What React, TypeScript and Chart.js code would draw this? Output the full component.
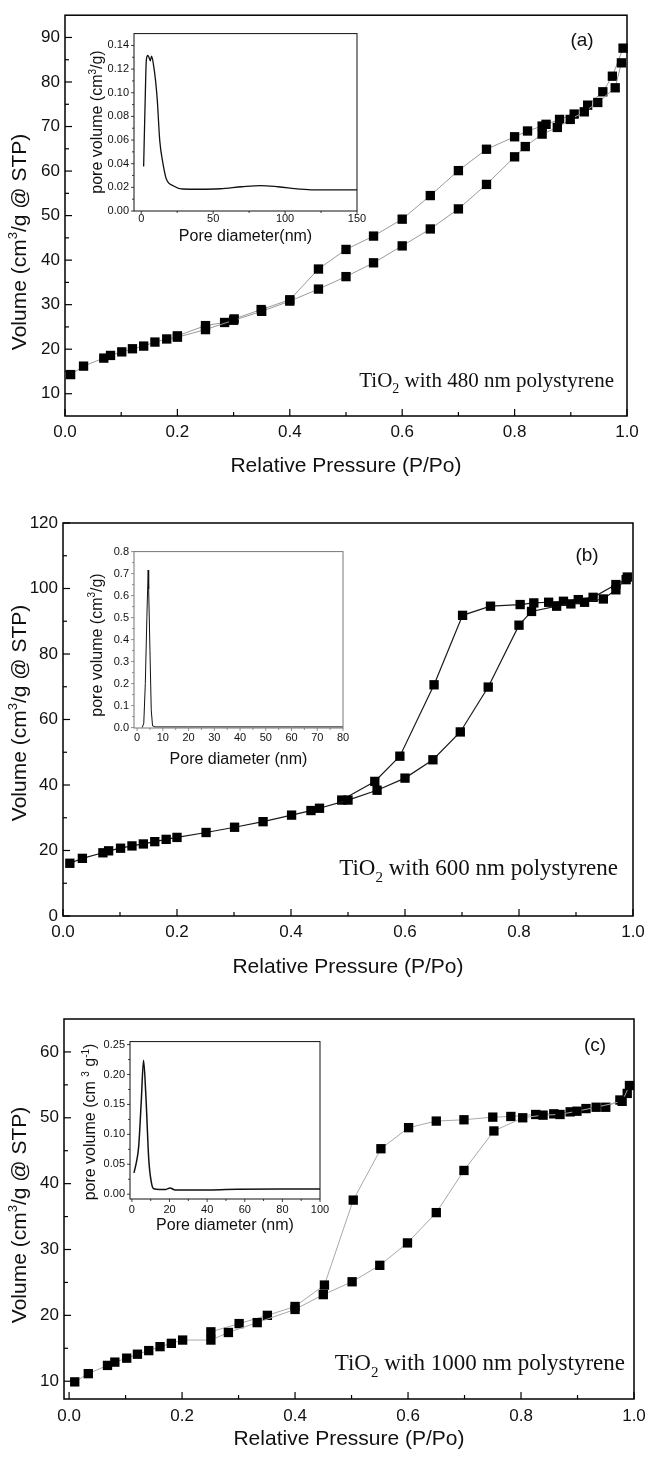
import React, { useEffect, useRef } from 'react';
import { Chart, registerables } from 'chart.js';

Chart.register(...registerables);

const SANS = "'Liberation Sans', Arial, Helvetica, sans-serif";
const SERIF = "'Liberation Serif', 'Times New Roman', Times, serif";
const INK = '#111111';

// ---------------- Panel (a): TiO2 with 480 nm polystyrene ----------------
const A_ADS_X = [0.010, 0.033, 0.069, 0.081, 0.101, 0.120, 0.140, 0.160, 0.181, 0.200, 0.250, 0.300, 0.350, 0.400, 0.451, 0.500, 0.549, 0.600, 0.650, 0.700, 0.750, 0.800, 0.819, 0.849, 0.876, 0.899, 0.924, 0.948, 0.979, 0.990];
const A_ADS_Y = [14.3, 16.2, 18.0, 18.6, 19.4, 20.1, 20.7, 21.6, 22.3, 22.7, 24.4, 26.5, 28.5, 30.8, 33.5, 36.3, 39.4, 43.2, 47.0, 51.5, 57.0, 63.2, 65.5, 68.3, 69.8, 71.6, 73.3, 75.4, 78.7, 84.3];
const A_DES_X = [0.993, 0.974, 0.957, 0.930, 0.906, 0.880, 0.856, 0.849, 0.823, 0.800, 0.750, 0.700, 0.650, 0.600, 0.549, 0.500, 0.451, 0.400, 0.349, 0.301, 0.284, 0.250, 0.200];
const A_DES_Y = [87.6, 81.3, 77.8, 74.8, 72.8, 71.6, 70.5, 70.1, 69.0, 67.7, 64.9, 60.1, 54.5, 49.2, 45.4, 42.4, 38.0, 31.1, 28.9, 26.8, 26.0, 25.3, 23.0];

// ---------------- Panel (b): TiO2 with 600 nm polystyrene ----------------
const B_ADS_X = [0.012, 0.034, 0.070, 0.080, 0.101, 0.121, 0.141, 0.161, 0.181, 0.200, 0.251, 0.301, 0.351, 0.401, 0.435, 0.450, 0.500, 0.551, 0.600, 0.649, 0.697, 0.746, 0.800, 0.822, 0.866, 0.891, 0.915, 0.948, 0.970, 0.990];
const B_ADS_Y = [16.1, 17.6, 19.3, 19.9, 20.7, 21.4, 22.0, 22.7, 23.4, 24.0, 25.5, 27.1, 28.8, 30.8, 32.2, 32.9, 35.4, 38.4, 42.1, 47.7, 56.2, 69.9, 88.8, 93.0, 94.6, 95.3, 95.8, 96.8, 99.6, 103.5];
const B_DES_X = [0.988, 0.970, 0.930, 0.904, 0.878, 0.852, 0.826, 0.802, 0.750, 0.701, 0.651, 0.591, 0.547, 0.489];
const B_DES_Y = [102.7, 101.2, 97.3, 96.6, 96.1, 95.8, 95.6, 95.1, 94.6, 91.8, 70.6, 48.8, 41.1, 35.4];

// ---------------- Panel (c): TiO2 with 1000 nm polystyrene ----------------
const C_ADS_X = [0.010, 0.034, 0.068, 0.081, 0.102, 0.121, 0.141, 0.161, 0.181, 0.201, 0.251, 0.282, 0.333, 0.400, 0.450, 0.501, 0.550, 0.599, 0.650, 0.699, 0.752, 0.803, 0.839, 0.869, 0.899, 0.933, 0.979, 0.992];
const C_ADS_Y = [9.9, 11.15, 12.4, 12.9, 13.5, 14.1, 14.65, 15.25, 15.75, 16.25, 16.25, 17.4, 18.9, 20.9, 23.15, 25.1, 27.6, 31.0, 35.6, 42.0, 48.0, 50.0, 50.4, 50.5, 51.0, 51.6, 52.5, 54.9];
const C_DES_X = [0.988, 0.975, 0.950, 0.915, 0.887, 0.858, 0.826, 0.782, 0.750, 0.699, 0.650, 0.601, 0.552, 0.503, 0.452, 0.400, 0.351, 0.301, 0.251];
const C_DES_Y = [53.7, 52.7, 51.6, 51.4, 50.9, 50.6, 50.5, 50.2, 50.1, 49.7, 49.5, 48.5, 45.3, 37.5, 24.6, 21.35, 20.0, 18.75, 17.5];

// ---------------- Insets: pore size distributions ----------------
const INSET_A_X = [1.7, 2.6, 3.6, 4.6, 5.4, 6.3, 7.2, 8.5, 10.0, 11.2, 12.9, 15.2, 17.5, 22.2, 29, 40, 55, 70, 83, 95, 110, 120, 135, 150];
const INSET_A_Y = [0.0377, 0.085, 0.128, 0.1315, 0.130, 0.127, 0.131, 0.124, 0.110, 0.0935, 0.0595, 0.0397, 0.027, 0.0214, 0.0186, 0.0184, 0.0188, 0.0205, 0.0215, 0.0205, 0.0185, 0.0178, 0.0178, 0.0178];
const INSET_B_X = [2.0, 2.6, 3.2, 3.8, 4.3, 4.5, 5.0, 5.5, 6.0, 7.0, 20, 40, 60, 80];
const INSET_B_Y = [0.0, 0.02, 0.2, 0.5, 0.716, 0.63, 0.35, 0.08, 0.008, 0.003, 0.003, 0.003, 0.003, 0.003];
const INSET_C_X = [1.1, 2.3, 3.6, 5.0, 6.2, 7.4, 9.0, 10.4, 11.7, 14.7, 18.1, 20.3, 23, 34, 56, 79, 100];
const INSET_C_Y = [0.0356, 0.052, 0.079, 0.156, 0.224, 0.167, 0.057, 0.019, 0.009, 0.008, 0.008, 0.0104, 0.007, 0.007, 0.0082, 0.0088, 0.0088];

// ---------------- Tick labels ----------------
const MAIN_X_TICKS = [0, 0.2, 0.4, 0.6, 0.8, 1.0];
const A_Y_TICKS = [10, 20, 30, 40, 50, 60, 70, 80, 90];
const B_Y_TICKS = [0, 20, 40, 60, 80, 100, 120];
const C_Y_TICKS = [10, 20, 30, 40, 50, 60];
const INSET_A_X_TICKS = [0, 50, 100, 150];
const INSET_A_Y_TICKS = [0, 0.02, 0.04, 0.06, 0.08, 0.10, 0.12, 0.14];
const INSET_B_X_TICKS = [0, 10, 20, 30, 40, 50, 60, 70, 80];
const INSET_B_Y_TICKS = [0, 0.1, 0.2, 0.3, 0.4, 0.5, 0.6, 0.7, 0.8];
const INSET_C_X_TICKS = [0, 20, 40, 60, 80, 100];
const INSET_C_Y_TICKS = [0, 0.05, 0.10, 0.15, 0.20, 0.25];

// ---------------- helpers ----------------
type Part = { t: string; size: number; dy?: number };
type TextItem = { parts: Part[]; family: string; x: number; y: number; align: 'left' | 'right' | 'center'; rotate?: boolean };
type Area = { left: number; top: number; right: number; bottom: number };
type Box = { left: number; top: number; width: number; height: number };

const pts = (xs: number[], ys: number[]) => xs.map((x, i) => ({ x, y: ys[i] }));
const mids = (a: number[]) => a.slice(0, -1).map((v, i) => (v + a[i + 1]) / 2);

function drawText(ctx: CanvasRenderingContext2D, item: TextItem, dx: number, dy: number) {
  ctx.save();
  ctx.fillStyle = INK;
  ctx.textBaseline = 'middle';
  ctx.textAlign = 'left';
  const widths = item.parts.map((p) => {
    ctx.font = `${p.size}px ${item.family}`;
    return ctx.measureText(p.t).width;
  });
  const total = widths.reduce((s, w) => s + w, 0);
  ctx.translate(item.x - dx, item.y - dy);
  if (item.rotate) ctx.rotate(-Math.PI / 2);
  let x0 = item.align === 'right' ? -total : item.align === 'center' ? -total / 2 : 0;
  item.parts.forEach((p, i) => {
    ctx.font = `${p.size}px ${item.family}`;
    ctx.fillText(p.t, x0, p.dy || 0);
    x0 += widths[i];
  });
  ctx.restore();
}

type FrameCfg = {
  xMajor: number[]; xMinor: number[]; yMajor: number[]; yMinor: number[];
  inward: boolean; major: number; minor: number;
  frameColor: string; frameWidth: number; tickWidth: number;
  texts: TextItem[]; box: Box;
};

function framePlugin(cfg: FrameCfg) {
  return {
    id: 'frameTicks',
    afterDraw(chart: any) {
      const { ctx, chartArea, scales } = chart;
      const { left, top, right, bottom } = chartArea;
      const x = scales.x;
      const y = scales.y;
      ctx.save();
      ctx.strokeStyle = cfg.frameColor;
      ctx.lineWidth = cfg.frameWidth;
      ctx.strokeRect(left, top, right - left, bottom - top);
      ctx.lineWidth = cfg.tickWidth;
      const dir = cfg.inward ? -1 : 1;
      const tx = (vals: number[], len: number) =>
        vals.forEach((v) => {
          const px = x.getPixelForValue(v);
          ctx.beginPath();
          ctx.moveTo(px, bottom);
          ctx.lineTo(px, bottom + dir * len);
          ctx.stroke();
        });
      const ty = (vals: number[], len: number) =>
        vals.forEach((v) => {
          const py = y.getPixelForValue(v);
          ctx.beginPath();
          ctx.moveTo(left, py);
          ctx.lineTo(left - dir * len, py);
          ctx.stroke();
        });
      tx(cfg.xMajor, cfg.major);
      tx(cfg.xMinor, cfg.minor);
      ty(cfg.yMajor, cfg.major);
      ty(cfg.yMinor, cfg.minor);
      ctx.restore();
      cfg.texts.forEach((t) => drawText(ctx, t, cfg.box.left, cfg.box.top));
    },
  };
}

// ---------------- main panel config ----------------
type MainSpec = {
  box: Box; area: Area;
  xMin: number; xMax: number; yMin: number; yMax: number;
  yTicks: number[]; yMinor: number[];
  adsX: number[]; adsY: number[]; desX: number[]; desY: number[];
  lineColor: string; lineWidth: number;
  xLabelPad: number; xTitlePad: number;
  texts: TextItem[];
};

function mainConfig(s: MainSpec): any {
  const localTop = s.area.top - s.box.top;
  const localBottom = s.area.bottom - s.box.top;
  const localLeft = s.area.left - s.box.left;
  const localRight = s.area.right - s.box.left;
  const ds = (xs: number[], ys: number[]) => ({
    data: pts(xs, ys),
    showLine: true,
    borderColor: s.lineColor,
    borderWidth: s.lineWidth,
    tension: 0,
    pointStyle: 'rect',
    pointRadius: 6.6,
    pointBackgroundColor: '#000',
    pointBorderColor: '#000',
    pointBorderWidth: 0,
    clip: false,
  });
  return {
    type: 'scatter',
    data: { datasets: [ds(s.adsX, s.adsY), ds(s.desX, s.desY)] },
    options: {
      responsive: false,
      animation: false,
      devicePixelRatio: 1,
      events: [],
      layout: { padding: { top: localTop, right: s.box.width - localRight, left: 0, bottom: 0 } },
      plugins: { legend: { display: false }, tooltip: { enabled: false } },
      scales: {
        x: {
          type: 'linear', position: 'bottom', min: s.xMin, max: s.xMax,
          afterBuildTicks: (sc: any) => { sc.ticks = MAIN_X_TICKS.map((v) => ({ value: v })); },
          afterFit: (sc: any) => { sc.height = s.box.height - localBottom; },
          grid: { display: false, drawTicks: false },
          border: { display: false },
          ticks: {
            padding: s.xLabelPad, color: INK, maxRotation: 0, minRotation: 0, autoSkip: false,
            font: { family: SANS, size: 17 },
            callback: (v: any) => Number(v).toFixed(1),
          },
          title: {
            display: true, text: 'Relative Pressure (P/Po)', color: INK,
            font: { family: SANS, size: 21 }, padding: { top: 0, bottom: s.xTitlePad },
          },
        },
        y: {
          type: 'linear', position: 'left', min: s.yMin, max: s.yMax,
          afterBuildTicks: (sc: any) => { sc.ticks = s.yTicks.map((v) => ({ value: v })); },
          afterFit: (sc: any) => { sc.width = localLeft; },
          grid: { display: false, drawTicks: false },
          border: { display: false },
          ticks: {
            padding: 5, color: INK, autoSkip: false,
            font: { family: SANS, size: 17 },
            callback: (v: any) => String(Math.round(Number(v))),
          },
        },
      },
    },
    plugins: [
      framePlugin({
        xMajor: MAIN_X_TICKS, xMinor: mids(MAIN_X_TICKS), yMajor: s.yTicks, yMinor: s.yMinor,
        inward: true, major: 7, minor: 4, frameColor: '#000', frameWidth: 1.5, tickWidth: 1.2,
        texts: s.texts, box: s.box,
      }),
    ],
  };
}

// ---------------- inset config ----------------
type InsetSpec = {
  box: Box; area: Area;
  xMin: number; xMax: number; yMin: number; yMax: number;
  xTicks: number[]; yTicks: number[]; yDecimals: number;
  xs: number[]; ys: number[]; smooth: boolean; lineWidth: number;
  frameColor: string; xLabelPad: number; xTitle: string; xTitlePad: number;
  texts: TextItem[];
};

function insetConfig(s: InsetSpec): any {
  const localTop = s.area.top - s.box.top;
  const localBottom = s.area.bottom - s.box.top;
  const localLeft = s.area.left - s.box.left;
  const localRight = s.area.right - s.box.left;
  return {
    type: 'scatter',
    data: {
      datasets: [{
        data: pts(s.xs, s.ys), showLine: true, borderColor: '#111', borderWidth: s.lineWidth,
        pointRadius: 0, cubicInterpolationMode: s.smooth ? 'monotone' : 'default', tension: 0,
      }],
    },
    options: {
      responsive: false,
      animation: false,
      devicePixelRatio: 1,
      events: [],
      layout: { padding: { top: localTop, right: s.box.width - localRight, left: 0, bottom: 0 } },
      plugins: { legend: { display: false }, tooltip: { enabled: false } },
      scales: {
        x: {
          type: 'linear', position: 'bottom', min: s.xMin, max: s.xMax,
          afterBuildTicks: (sc: any) => { sc.ticks = s.xTicks.map((v) => ({ value: v })); },
          afterFit: (sc: any) => { sc.height = s.box.height - localBottom; },
          grid: { display: false, drawTicks: false },
          border: { display: false },
          ticks: {
            padding: s.xLabelPad, color: INK, maxRotation: 0, minRotation: 0, autoSkip: false,
            font: { family: SANS, size: 11 },
            callback: (v: any) => String(Math.round(Number(v))),
          },
          title: {
            display: true, text: s.xTitle, color: INK,
            font: { family: SANS, size: 16 }, padding: { top: 0, bottom: s.xTitlePad },
          },
        },
        y: {
          type: 'linear', position: 'left', min: s.yMin, max: s.yMax,
          afterBuildTicks: (sc: any) => { sc.ticks = s.yTicks.map((v) => ({ value: v })); },
          afterFit: (sc: any) => { sc.width = localLeft; },
          grid: { display: false, drawTicks: false },
          border: { display: false },
          ticks: {
            padding: 5, color: INK, autoSkip: false,
            font: { family: SANS, size: 11 },
            callback: (v: any) => Number(v).toFixed(s.yDecimals),
          },
        },
      },
    },
    plugins: [
      framePlugin({
        xMajor: s.xTicks, xMinor: mids(s.xTicks), yMajor: s.yTicks, yMinor: mids(s.yTicks),
        inward: false, major: 3, minor: 2, frameColor: s.frameColor, frameWidth: 1, tickWidth: 0.8,
        texts: s.texts, box: s.box,
      }),
    ],
  };
}

// ---------------- text items ----------------
const yTitle = (x: number, y: number): TextItem => ({
  parts: [
    { t: 'Volume (cm', size: 21 },
    { t: '3', size: 13, dy: -7 },
    { t: '/g @ STP)', size: 21 },
  ],
  family: SANS, x, y, align: 'center', rotate: true,
});
const tag = (t: string, x: number, y: number): TextItem => ({ parts: [{ t, size: 19 }], family: SANS, x, y, align: 'center' });
const tio = (rest: string, size: number, x: number, y: number): TextItem => ({
  parts: [
    { t: 'TiO', size },
    { t: '2', size: Math.round(size * 0.65), dy: size * 0.38 },
    { t: rest, size },
  ],
  family: SERIF, x, y, align: 'right',
});
const insetYTitle = (x: number, y: number): TextItem => ({
  parts: [
    { t: 'pore volume (cm', size: 16 },
    { t: '3', size: 10, dy: -5 },
    { t: '/g)', size: 16 },
  ],
  family: SANS, x, y, align: 'center', rotate: true,
});
const insetYTitleC = (x: number, y: number): TextItem => ({
  parts: [
    { t: 'pore volume (cm ', size: 16 },
    { t: '3', size: 10, dy: -5 },
    { t: ' g', size: 16 },
    { t: '-1', size: 10, dy: -5 },
    { t: ')', size: 16 },
  ],
  family: SANS, x, y, align: 'center', rotate: true,
});

const PANEL_A: MainSpec = {
  box: { left: 0, top: 0, width: 653, height: 490 },
  area: { left: 65, top: 13, right: 627, bottom: 416 },
  xMin: 0, xMax: 1, yMin: 5, yMax: 95,
  yTicks: A_Y_TICKS, yMinor: mids(A_Y_TICKS),
  adsX: A_ADS_X, adsY: A_ADS_Y, desX: A_DES_X, desY: A_DES_Y,
  lineColor: '#9a9a9a', lineWidth: 1,
  xLabelPad: 5.8, xTitlePad: 11.4,
  texts: [yTitle(20, 242), tag('(a)', 582, 41), tio(' with 480 nm polystyrene', 21, 614, 381)],
};
const PANEL_B: MainSpec = {
  box: { left: 0, top: 490, width: 653, height: 490 },
  area: { left: 63, top: 523, right: 633, bottom: 916 },
  xMin: 0, xMax: 1, yMin: 0, yMax: 120,
  yTicks: B_Y_TICKS, yMinor: mids(B_Y_TICKS),
  adsX: B_ADS_X, adsY: B_ADS_Y, desX: B_DES_X, desY: B_DES_Y,
  lineColor: '#1a1a1a', lineWidth: 1.2,
  xLabelPad: 5.8, xTitlePad: 0.4,
  texts: [yTitle(20, 713), tag('(b)', 587, 556), tio(' with 600 nm polystyrene', 23, 618, 869)],
};
const PANEL_C: MainSpec = {
  box: { left: 0, top: 980, width: 653, height: 479 },
  area: { left: 64, top: 1019, right: 634, bottom: 1399 },
  xMin: -0.009, xMax: 1, yMin: 7.3, yMax: 65,
  yTicks: C_Y_TICKS, yMinor: mids(C_Y_TICKS),
  adsX: C_ADS_X, adsY: C_ADS_Y, desX: C_DES_X, desY: C_DES_Y,
  lineColor: '#a8a8a8', lineWidth: 1,
  xLabelPad: 6.8, xTitlePad: 7.4,
  texts: [yTitle(20, 1215), tag('(c)', 595, 1046), tio(' with 1000 nm polystyrene', 23, 625, 1364)],
};

const INSET_A: InsetSpec = {
  box: { left: 78, top: 22, width: 292, height: 228 },
  area: { left: 134, top: 33, right: 357, bottom: 211 },
  xMin: -5, xMax: 150, yMin: 0, yMax: 0.15,
  xTicks: INSET_A_X_TICKS, yTicks: INSET_A_Y_TICKS, yDecimals: 2,
  xs: INSET_A_X, ys: INSET_A_Y, smooth: true, lineWidth: 1.3,
  frameColor: '#111', xLabelPad: 1.5, xTitle: 'Pore diameter(nm)', xTitlePad: 3.4,
  texts: [insetYTitle(98, 122)],
};
const INSET_B: InsetSpec = {
  box: { left: 78, top: 540, width: 290, height: 240 },
  area: { left: 134, top: 551, right: 343, bottom: 728 },
  xMin: -1.2, xMax: 80, yMin: -0.002, yMax: 0.8,
  xTicks: INSET_B_X_TICKS, yTicks: INSET_B_Y_TICKS, yDecimals: 1,
  xs: INSET_B_X, ys: INSET_B_Y, smooth: false, lineWidth: 1,
  frameColor: '#777', xLabelPad: 3.4, xTitle: 'Pore diameter (nm)', xTitlePad: 10.4,
  texts: [insetYTitle(97.5, 645)],
};
const INSET_C: InsetSpec = {
  box: { left: 74, top: 1030, width: 262, height: 215 },
  area: { left: 130, top: 1040, right: 320, bottom: 1199 },
  xMin: -1, xMax: 100, yMin: -0.008, yMax: 0.255,
  xTicks: INSET_C_X_TICKS, yTicks: INSET_C_Y_TICKS, yDecimals: 2,
  xs: INSET_C_X, ys: INSET_C_Y, smooth: true, lineWidth: 1.5,
  frameColor: '#111', xLabelPad: 4.4, xTitle: 'Pore diameter (nm)', xTitlePad: 9.7,
  texts: [insetYTitleC(91, 1122)],
};

function ChartBox({ box, make }: { box: Box; make: () => any }) {
  const ref = useRef<HTMLCanvasElement | null>(null);
  useEffect(() => {
    if (!ref.current) return;
    const chart = new Chart(ref.current, make());
    return () => chart.destroy();
  }, []);
  return (
    <canvas
      ref={ref}
      width={box.width}
      height={box.height}
      style={{ position: 'absolute', left: box.left, top: box.top, width: box.width, height: box.height }}
    />
  );
}

export default function App() {
  return (
    <div style={{ position: 'absolute', left: 0, top: 0, width: 653, height: 1459, background: '#fff', overflow: 'hidden' }}>
      <ChartBox box={PANEL_A.box} make={() => mainConfig(PANEL_A)} />
      <ChartBox box={PANEL_B.box} make={() => mainConfig(PANEL_B)} />
      <ChartBox box={PANEL_C.box} make={() => mainConfig(PANEL_C)} />
      <ChartBox box={INSET_A.box} make={() => insetConfig(INSET_A)} />
      <ChartBox box={INSET_B.box} make={() => insetConfig(INSET_B)} />
      <ChartBox box={INSET_C.box} make={() => insetConfig(INSET_C)} />
    </div>
  );
}
